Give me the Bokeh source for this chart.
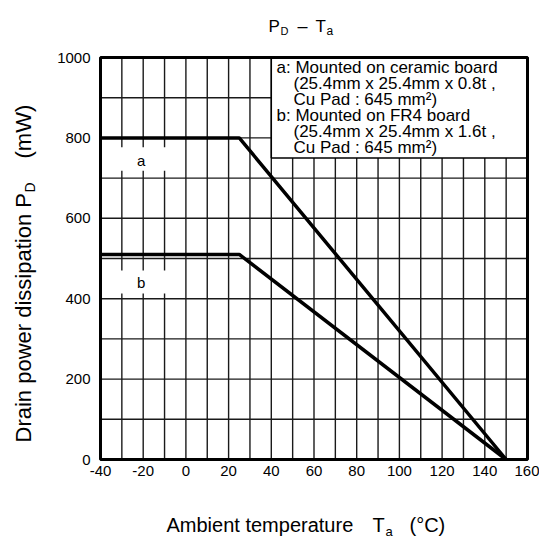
import math
from bokeh.plotting import figure
from bokeh.models import Range1d, FixedTicker, Label
from bokeh.embed import file_html
from bokeh.resources import INLINE

# ---- data ----
temps_a = [-40, 25, 150]
power_a = [800, 800, 0]
temps_b = [-40, 25, 150]
power_b = [510, 510, 0]
x_ticks = [-40, -20, 0, 20, 40, 60, 80, 100, 120, 140, 160]
y_ticks = [0, 200, 400, 600, 800, 1000]
x_grid = list(range(-40, 161, 10))
y_grid = list(range(0, 1001, 100))
legend_lines = [
    "a: Mounted on ceramic board",
    "(25.4mm x 25.4mm x 0.8t ,",
    "Cu Pad : 645 mm\u00b2)",
    "b: Mounted on FR4 board",
    "(25.4mm x 25.4mm x 1.6t ,",
    "Cu Pad : 645 mm\u00b2)",
]

XMIN, XMAX, YMIN, YMAX = -40, 160, 0, 1000
W, H = 539, 541
# chart area in canvas pixels
PX_L, PX_R, PX_T, PX_B = 100, 527, 57, 459
FONT = "Liberation Sans"

kx = (PX_R - PX_L) / (XMAX - XMIN)
ky = (PX_B - PX_T) / (YMAX - YMIN)
x_range = Range1d(XMIN - PX_L / kx, XMAX + (W - PX_R) / kx)
y_range = Range1d(YMIN - (H - PX_B) / ky, YMAX + PX_T / ky)

p = figure(width=W, height=H, x_range=x_range, y_range=y_range,
           output_backend="svg", toolbar_location=None,
           min_border_left=0, min_border_right=0, min_border_top=0, min_border_bottom=0)
p.title.visible = False
p.background_fill_color = "white"
p.border_fill_color = "white"
p.outline_line_color = None
p.grid.visible = False

# axes placed at the chart edges
p.xaxis.fixed_location = YMIN
p.yaxis.fixed_location = XMIN
p.xaxis.ticker = FixedTicker(ticks=x_ticks)
p.yaxis.ticker = FixedTicker(ticks=y_ticks)
p.xaxis.major_label_overrides = {t: str(t) for t in x_ticks}
p.yaxis.major_label_overrides = {t: str(t) for t in y_ticks}
for ax in (p.xaxis, p.yaxis):
    ax.axis_line_color = None
    ax.major_tick_line_color = None
    ax.minor_tick_line_color = None
    ax.major_label_text_font = FONT
    ax.major_label_text_font_size = "15px"
    ax.major_label_text_color = "black"
p.xaxis.major_label_standoff = 0
p.yaxis.major_label_standoff = 4

# grid lines
GRID = dict(line_color="#1a1a1a", line_width=1.4)
p.segment(x0=x_grid, y0=[YMIN] * len(x_grid), x1=x_grid, y1=[YMAX] * len(x_grid), **GRID)
p.segment(x0=[XMIN] * len(y_grid), y0=y_grid, x1=[XMAX] * len(y_grid), y1=y_grid, **GRID)

# white boxes behind curve labels (interrupt grid)
p.quad(left=[-35, -35], right=[-5, -5], bottom=[718, 413], top=[777, 470],
       fill_color="white", line_color=None)

# curves
p.line(temps_a, power_a, line_color="black", line_width=3.5)
p.line(temps_b, power_b, line_color="black", line_width=3.5)

# legend box
p.quad(left=[40], right=[XMAX], bottom=[750], top=[YMAX], fill_color="white",
       line_color="black", line_width=1.5)

# chart border
p.quad(left=[XMIN], right=[XMAX], bottom=[YMIN], top=[YMAX], fill_color=None,
       line_color="black", line_width=3)

# curve labels
for t, yv in (("a", 745), ("b", 441)):
    p.add_layout(Label(x=-21, y=yv, text=t, text_font=FONT, text_font_size="15px",
                       text_align="center", text_baseline="middle", text_color="black"))


def lab(xi, yi, text, size, angle=0.0):
    # compensate the renderer's baseline offset (about a third of the font size)
    shift = 0.32 * size
    if angle == 0.0:
        yi -= shift
    else:
        xi -= shift
    p.add_layout(Label(x=xi, y=H - yi, x_units="screen", y_units="screen", text=text,
                       text_font=FONT, text_font_size=f"{size}px", text_align="left",
                       text_baseline="alphabetic", text_color="black", angle=angle))


# legend text
baselines = [72, 88, 104, 120, 136, 152]
indents = [276, 293, 293, 276, 293, 293]
for line, yb, xi in zip(legend_lines, baselines, indents):
    lab(xi, yb, line, 17)

# title  P_D - T_a
lab(268, 31, "P", 17)
lab(280, 34, "D", 11)
lab(297, 31, "\u2013", 18)
lab(315, 31, "T", 17)
lab(326, 34, "a", 12)

# x axis label
lab(166, 531, "Ambient temperature", 20)
lab(372, 531, "T", 20)
lab(385, 535, "a", 13)
lab(409, 531, "(\u00b0C)", 20)

# y axis label (rotated)
r = math.pi / 2
lab(30, 442, "Drain power dissipation P", 22, r)
lab(34, 192, "D", 14, r)
lab(30, 158, "(mW)", 22, r)

open("out.html", "w").write(file_html(p, INLINE))
